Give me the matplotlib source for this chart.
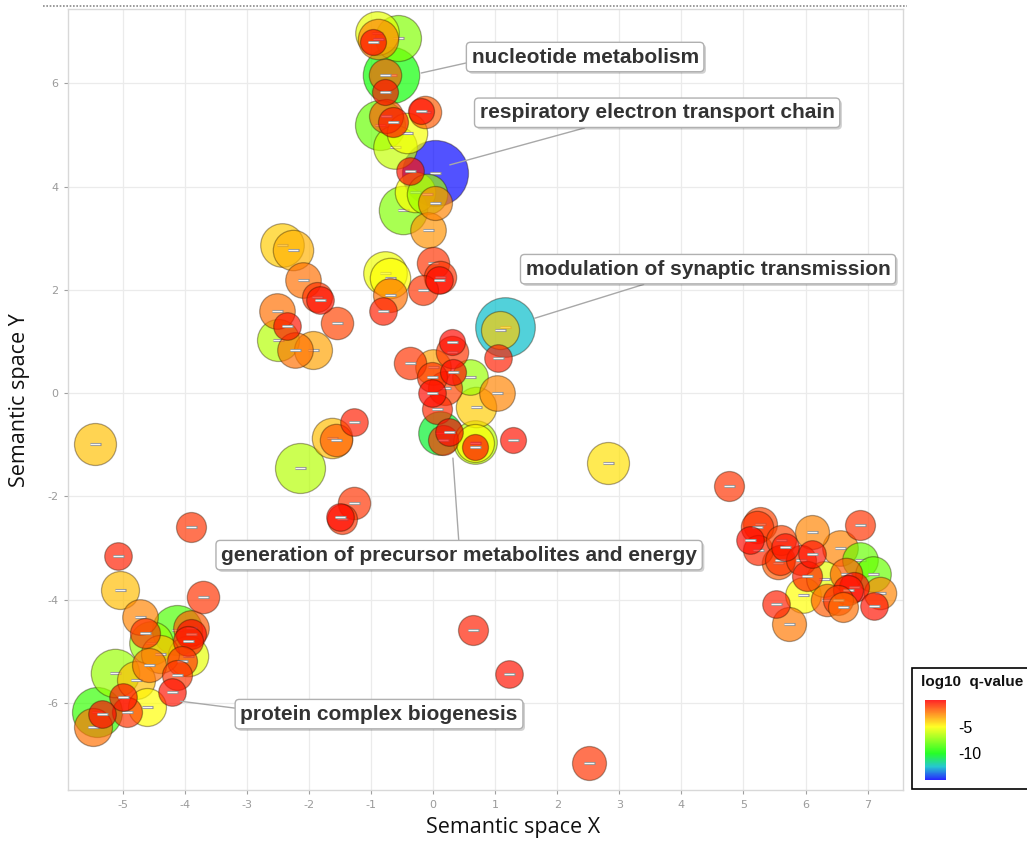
import numpy as np
import matplotlib
matplotlib.use("Agg")
import matplotlib.pyplot as plt
from matplotlib.colors import LinearSegmentedColormap, Normalize
from matplotlib.cm import ScalarMappable
from matplotlib.patches import Rectangle
from matplotlib.lines import Line2D
import matplotlib.patheffects as pe

# ---------------- data (REVIGO semantic space) ----------------
term_x = [
    -0.91, -0.56, -0.89, -0.96, -0.67, -0.77, -0.77, -0.13, -0.19, -0.85,
    -0.42, -0.61, -0.75, -0.64, 0.03, -0.37, -0.29, -0.48, 0.03, -0.08,
    -0.10,
    -2.44, -2.25, -2.09, -1.87, -1.82, -1.55, -2.52, -2.36, -2.49, -2.22,
    -1.93,
    -0.77, -0.69, -0.69, -0.80, 0.00, -0.16, 0.12, 0.09,
    1.16, 1.08, 1.05,
    -0.37, 0.31, 0.30, 0.32, 0.60, 0.00, 1.03, 0.70, -0.02, -0.02,
    0.06, 0.11, 0.16, 0.25, 0.68, 0.68, 0.68, 1.29, 0.20,
    -1.28, -1.63, -1.56, -2.14, -1.28, -1.46, -1.50, -5.44, -3.90, 2.82,
    0.64, 1.22, 2.51,
    -5.08, -5.04, -3.70, -4.72, -4.64, -4.13, -3.90, -3.90, -3.95, -4.05,
    -4.13, -3.95, -4.57, -4.40, -5.12, -4.78, -4.61, -4.21, -4.99, -4.93,
    -5.34, -5.42, -5.47, -4.55,
    4.77, 5.27, 5.22, 5.10, 5.24, 5.60, 5.67, 5.59, 6.10, 6.10,
    5.92, 6.87, 6.55, 6.87, 7.09, 6.02, 5.96, 6.65, 6.34, 6.78,
    6.69, 6.53, 6.61, 7.20, 7.10, 5.53, 5.74, 5.55, 6.30,
]
term_y = [
    6.97, 6.88, 6.85, 6.80, 6.16, 6.16, 5.84, 5.45, 5.47, 5.19,
    5.04, 4.77, 5.36, 5.26, 4.26, 4.31, 3.90, 3.55, 3.68, 3.16,
    3.85,
    2.87, 2.77, 2.19, 1.87, 1.80, 1.35, 1.58, 1.29, 1.03, 0.83,
    0.83,
    2.32, 2.22, 1.90, 1.58, 2.51, 2.00, 2.25, 2.19,
    1.28, 1.22, 0.67,
    0.58, 0.99, 0.80, 0.41, 0.32, 0.50, 0.00, -0.27, 0.00, 0.31,
    -0.30, -0.78, -0.90, -0.75, -0.94, -0.96, -1.04, -0.91, 0.10,
    -0.56, -0.88, -0.90, -1.46, -2.13, -2.44, -2.41, -0.98, -2.59, -1.36,
    -4.59, -5.45, -7.16,
    -3.16, -3.82, -3.96, -4.34, -4.65, -4.59, -4.55, -4.67, -4.80, -5.20,
    -5.47, -5.10, -5.27, -5.05, -5.43, -5.55, -6.08, -5.79, -5.88, -6.17,
    -6.21, -6.17, -6.47, -4.85,
    -1.80, -2.53, -2.59, -2.85, -3.04, -2.85, -2.98, -3.24, -2.69, -3.11,
    -3.24, -2.56, -3.01, -3.24, -3.50, -3.55, -3.91, -3.50, -4.01, -3.75,
    -3.82, -4.01, -4.14, -3.88, -4.12, -4.08, -4.47, -3.30, -3.60,
]
log10_q = [
    -5.5, -7.5, -2.6, -0.2, -9.8, -1.8, -0.4, -1.8, -0.2, -8.0,
    -5.2, -6.2, -1.8, -0.4, -15.0, -0.4, -5.0, -7.5, -2.6, -2.9,
    -7.0,
    -4.0, -3.5, -2.2, -1.0, -0.4, -1.3, -2.2, -0.4, -6.5, -2.2,
    -3.2,
    -5.3, -5.0, -2.2, -0.6, -1.0, -1.0, -1.0, -0.2,
    -12.5, -4.0, -0.6,
    -1.0, -0.2, -1.0, -0.2, -7.0, -3.2, -2.6, -4.0, -0.2, -1.0,
    -0.8, -10.5, -1.0, -0.2, -6.5, -5.0, -0.2, -0.4, -1.3,
    -0.6, -3.7, -1.8, -6.5, -1.0, -1.0, -0.2, -3.8, -1.0, -4.4,
    -0.6, -0.4, -1.0,
    -0.6, -3.7, -1.0, -2.6, -1.0, -8.5, -1.8, -0.2, -0.6, -1.0,
    -1.0, -5.5, -2.2, -3.7, -7.0, -3.7, -5.0, -0.4, -0.4, -1.0,
    -0.2, -9.0, -2.2, -7.0,
    -1.0, -1.3, -1.0, -0.2, -0.8, -1.3, -0.4, -1.0, -2.6, -0.4,
    -1.0, -1.0, -2.6, -8.0, -8.0, -0.6, -5.0, -1.8, -1.8, -0.2,
    -0.4, -1.0, -2.2, -2.6, -0.4, -0.6, -2.4, -1.8, -5.5,
]
log_size = [
    3.1, 3.25, 2.9, 2.0, 3.9, 2.4, 2.0, 2.4, 2.0, 3.5,
    2.9, 3.1, 2.5, 2.25, 4.5, 2.1, 2.9, 3.4, 2.5, 2.6,
    2.9,
    3.1, 2.9, 2.6, 2.25, 2.1, 2.4, 2.6, 2.1, 3.0, 2.6,
    2.75,
    3.1, 2.9, 2.5, 2.1, 2.4, 2.25, 2.4, 2.1,
    4.1, 2.75, 2.1,
    2.4, 2.0, 2.4, 2.0, 2.6, 2.6, 2.6, 2.9, 2.1, 2.25,
    2.25, 3.1, 2.25, 2.1, 3.1, 2.75, 2.0, 2.0, 2.5,
    2.1, 2.9, 2.4, 3.5, 2.4, 2.25, 2.1, 3.0, 2.25, 3.0,
    2.25, 2.1, 2.5,
    2.1, 2.75, 2.4, 2.6, 2.25, 3.5, 2.6, 2.25, 2.25, 2.25,
    2.25, 2.9, 2.5, 2.75, 3.4, 2.75, 2.75, 2.1, 2.1, 2.25,
    2.1, 3.5, 2.75, 3.1,
    2.25, 2.5, 2.4, 2.1, 2.25, 2.25, 2.1, 2.25, 2.5, 2.1,
    2.25, 2.25, 2.6, 2.6, 2.6, 2.25, 2.6, 2.4, 2.4, 2.25,
    2.25, 2.25, 2.25, 2.4, 2.1, 2.1, 2.5, 2.4, 2.6,
]

label_text = [
    "nucleotide metabolism",
    "respiratory electron transport chain",
    "modulation of synaptic transmission",
    "generation of precursor metabolites and energy",
    "protein complex biogenesis",
]
label_x = [2.45, 3.61, 4.43, 0.42, -0.87]
label_y = [6.51, 5.43, 2.40, -3.14, -6.22]
anchor_x = [-0.19, 0.27, 1.64, 0.32, -4.07]
anchor_y = [6.20, 4.42, 1.45, -1.26, -5.97]
anchor_rel = [(0.0, 0.25), (0.354, 0.0), (0.374, 0.0), (0.5, 1.0), (0.0, 0.78)]

x_ticks = [-5, -4, -3, -2, -1, 0, 1, 2, 3, 4, 5, 6, 7]
y_ticks = [-6, -4, -2, 0, 2, 4, 6]
cbar_ticks = [-5, -10]
q_min, q_max = -15.0, 0.0

# ---------------- figure ----------------
W, H = 1027, 843
fig = plt.figure(figsize=(W / 100, H / 100), dpi=100)
ax = fig.add_axes([68 / W, 53 / H, 835 / W, 781 / H])
ax.set_xlim(-5.88, 7.57)
ax.set_ylim(-7.69, 7.44)
ax.set_facecolor("white")

cmap = LinearSegmentedColormap.from_list(
    "revigo", [(0.0, "#0000FF"), (1 / 6, "#00BEC8"), (1 / 3, "#00FF00"),
               (2 / 3, "#FFFF00"), (1.0, "#FF0000")])
norm = Normalize(vmin=q_min, vmax=q_max)

# grid
for xv in x_ticks:
    ax.axvline(xv, color="#ebebeb", lw=0.9, zorder=0)
for yv in y_ticks:
    ax.axhline(yv, color="#ebebeb", lw=0.9, zorder=0)

order = np.argsort(-np.array(log_size), kind="stable")
for i in order:
    d_px = 16 * log_size[i] - 6
    s = (d_px * 0.72) ** 2
    rgba = list(cmap(norm(log10_q[i])))
    rgba[3] = 0.68
    ax.scatter([term_x[i]], [term_y[i]], s=s, facecolors=[rgba],
               edgecolors=[(0.15, 0.08, 0.0, 0.38)], linewidths=0.9, zorder=2)
    ax.scatter([term_x[i]], [term_y[i]], s=(11 * 0.72) ** 2, marker="_",
               c="#8c8c8c", linewidths=2.2, zorder=2)
    ax.scatter([term_x[i]], [term_y[i]], s=(9.5 * 0.72) ** 2, marker="_",
               c="#f4f4f4", linewidths=1.0, zorder=2)

# labels
for t, lx, ly, axx, ayy, rp in zip(label_text, label_x, label_y,
                                    anchor_x, anchor_y, anchor_rel):
    an = ax.annotate(
        t, xy=(axx, ayy), xytext=(lx, ly), ha="center", va="center",
        fontsize=15, fontweight="bold", color="#333333",
        family="Liberation Sans", zorder=5,
        bbox=dict(boxstyle="round,pad=0.25,rounding_size=0.2", fc="white",
                  ec="#b0b0b0", lw=1.0),
        arrowprops=dict(arrowstyle="-", color="#a8a8a8", lw=1.0,
                        shrinkA=0, shrinkB=0, relpos=rp))
    an.get_bbox_patch().set_path_effects(
        [pe.withSimplePatchShadow(offset=(1.5, -1.5), shadow_rgbFace="#000000",
                                  alpha=0.18)])

# axes styling
ax.set_xticks(x_ticks)
ax.set_yticks(y_ticks)
ax.set_xticklabels([str(v) for v in x_ticks])
ax.set_yticklabels([str(v) for v in y_ticks])
ax.tick_params(axis="both", colors="#a0a0a0", labelsize=8, length=3,
               width=0.8, labelcolor="#9a9a9a", pad=4)
for sp in ax.spines.values():
    sp.set_color("#d8d8d8")
    sp.set_linewidth(1.0)

fig.text(513 / W, 1 - 828 / H, "Semantic space X", ha="center", va="center",
         fontsize=15.5, family="Open Sans", color="#111111")
fig.text(20 / W, 1 - 400 / H, "Semantic space Y", ha="center", va="center",
         rotation=90, fontsize=15.5, family="Open Sans", color="#111111")

# dotted line at top
fig.add_artist(Line2D([43 / W, 907 / W], [1 - 6 / H, 1 - 6 / H],
                      transform=fig.transFigure, color="#8a8a8a",
                      lw=1.2, ls=(0, (1, 1))))

# legend box
fig.add_artist(Rectangle((912 / W, 1 - 789 / H), 130 / W, 121 / H,
                         transform=fig.transFigure, fc="white", ec="black",
                         lw=1.2, zorder=1))
fig.text(921 / W, 1 - 682 / H, "log10  q-value", ha="left", va="center",
         fontsize=11, fontweight="bold", family="Liberation Sans",
         color="#111111", zorder=3)
cax = fig.add_axes([925 / W, 1 - 780 / H, 21 / W, 80 / H], zorder=3)
cb = fig.colorbar(ScalarMappable(norm=norm, cmap=cmap), cax=cax,
                  ticks=cbar_ticks)
cb.outline.set_visible(False)
cb.solids.set_alpha(0.85)
cax.tick_params(length=0, pad=9, labelsize=11.5)
cax.set_yticklabels([str(v) for v in cbar_ticks], family="Liberation Sans")

fig.savefig("out.png", dpi=100)
